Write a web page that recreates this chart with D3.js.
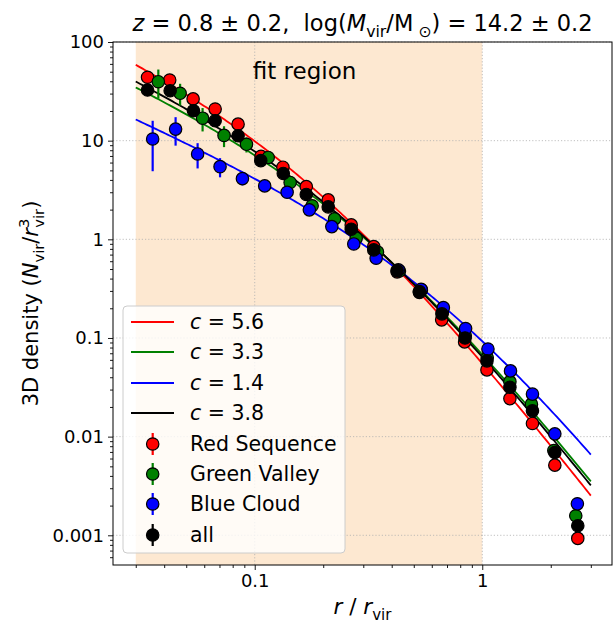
<!DOCTYPE html>
<html><head><meta charset="utf-8">
<script src="https://cdn.jsdelivr.net/npm/d3@7"></script>
<style>body{margin:0;background:#fff}svg{display:block;font-family:"DejaVu Sans",sans-serif}</style>
</head><body>
<svg id="chart" width="613" height="623"></svg>
<script>
// ---------- data ----------
const concentrations = [5.6, 3.3, 1.4, 3.8];
const modelColors = ["#ff0000", "#008000", "#0000ff", "#000000"];
const fitRange = [0.03, 1.0];
const modelRange = [0.03, 3.0];

const seriesNames = ["Red Sequence", "Green Valley", "Blue Cloud", "all"];
const seriesColors = ["#ff0000", "#008000", "#0000ff", "#000000"];

const redR = [0.0338,0.0423,0.0536,0.0670,0.0845,0.1066,0.1330,0.1685,0.2104,0.2655,0.3335,0.4225,0.5293,0.6632,0.8364,1.0486,1.3228,1.6618,2.084,2.629];
const redY = [43.9,41.2,26.5,20.9,14.7,6.95,5.38,3.42,2.51,1.40,0.843,0.468,0.290,0.1526,0.0913,0.0475,0.0243,0.0136,0.00514,0.00093];
const redE = [3.0,3.5,2.0,2.0,1.2,0.6,0.4,0.25,0.15,0.08,0.04,0.02,0.012,0.006,0.004,0.002,0.001,0.0006,0.0003,0.0001];

const greenR = [0.0377,0.0470,0.0590,0.0733,0.0920,0.1146,0.1431,0.1788,0.2243,0.2792,0.3463,0.4325,0.5401,0.6679,0.8422,1.0517,1.3228,1.6450,2.063,2.576];
const greenY = [39.6,30.2,16.9,11.3,9.19,6.76,3.77,2.19,1.61,1.026,0.745,0.478,0.307,0.181,0.105,0.0629,0.0361,0.02135,0.00723,0.001576];
const greenE = [13.0,7.5,4.5,2.7,1.6,0.8,0.4,0.2,0.12,0.07,0.04,0.025,0.015,0.008,0.005,0.003,0.0015,0.001,0.0004,0.0001];

const blueR = [0.0356,0.0449,0.0561,0.0704,0.0883,0.1106,0.1388,0.1738,0.2182,0.2725,0.3417,0.4280,0.5383,0.6745,0.8449,1.0592,1.3308,1.6618,2.084,2.618];
const blueY = [10.4,13.1,7.33,5.45,4.12,3.48,3.00,1.99,1.345,0.898,0.643,0.490,0.312,0.203,0.1248,0.0772,0.0464,0.0270,0.01067,0.002085];
const blueE = [5.5,4.2,2.1,1.2,0.6,0.3,0.2,0.12,0.07,0.04,0.025,0.015,0.01,0.006,0.004,0.002,0.0012,0.0007,0.0003,0.0001];

const allR = [0.0338,0.0425,0.0538,0.0670,0.0845,0.1063,0.1335,0.1685,0.2104,0.2655,0.3335,0.4225,0.5293,0.6650,0.8400,1.0486,1.3228,1.6618,2.084,2.629];
const allY = [32.6,32.1,20.1,15.9,11.2,6.27,4.65,2.85,2.13,1.266,0.781,0.482,0.295,0.1754,0.0998,0.0586,0.0317,0.01826,0.0069,0.00125];
const allE = [2.5,2.5,1.5,1.2,0.7,0.35,0.25,0.15,0.1,0.06,0.03,0.018,0.01,0.005,0.003,0.0015,0.0008,0.0005,0.0002,0.00005];

const xMajorTicks = [0.1, 1];
const xMajorLabels = ["0.1", "1"];
const yMajorTicks = [0.001, 0.01, 0.1, 1, 10, 100];
const yMajorLabels = ["0.001", "0.01", "0.1", "1", "10", "100"];

// ---------- layout ----------
const svg = d3.select("#chart");
const L = 113, R = 612, T = 42, B = 565;
const x = d3.scaleLog().domain([0.02383, 3.717]).range([L, R]);
const y = d3.scaleLog().domain([5.0e-4, 100]).range([B, T]);

// text helper (mathtext-like)
function richText(sel, parts, fs) {
  let off = 0;
  parts.forEach(p => {
    const ts = sel.append("tspan").text(p.t);
    let target = 0, size = fs;
    if (p.sub) { target = 0.28 * fs; size = fs * 0.7; }
    if (p.sup) { target = -0.42 * fs; size = fs * 0.7; }
    ts.attr("font-size", size);
    if (target !== off) { ts.attr("dy", target - off); off = target; }
    if (p.dx) ts.attr("dx", p.dx);
    if (p.it) ts.attr("font-style", "italic");
  });
}

// fit region shading
svg.append("rect").attr("x", x(fitRange[0])).attr("y", T)
  .attr("width", x(fitRange[1]) - x(fitRange[0])).attr("height", B - T)
  .attr("fill", "#fde8d1");

// minor ticks values
const xMinor = [], yMinor = [];
for (let e = -2; e <= 0; e++) for (let k = 2; k <= 9; k++) { const v = k * Math.pow(10, e); if (v > 0.02383 && v < 3.717) xMinor.push(v); }
for (let e = -4; e <= 1; e++) for (let k = 2; k <= 9; k++) { const v = k * Math.pow(10, e); if (v > 5e-4 && v < 100) yMinor.push(v); }

// grid
const grid = svg.append("g").attr("stroke", "#b0b0b0").attr("stroke-width", 0.8).attr("stroke-dasharray", "1.2,2");
xMajorTicks.forEach(v => grid.append("line").attr("x1", x(v)).attr("x2", x(v)).attr("y1", T).attr("y2", B));
yMajorTicks.forEach(v => grid.append("line").attr("y1", y(v)).attr("y2", y(v)).attr("x1", L).attr("x2", R));

// fit region label
svg.append("text").attr("x", x(0.1) - 2).attr("y", 79).attr("font-size", 23).attr("fill", "#000").text("fit region");

// NFW model curves (normalised to 1 inside r_vir)
svg.append("clipPath").attr("id", "clip").append("rect").attr("x", L).attr("y", T).attr("width", R - L).attr("height", B - T);
const rs = d3.range(0, 201).map(i => modelRange[0] * Math.pow(modelRange[1] / modelRange[0], i / 200));
function nfw(c) {
  const m = Math.log(1 + c) - c / (1 + c);
  return r => (c * c * c / (4 * Math.PI * m)) / (c * r * (1 + c * r) * (1 + c * r));
}
const line = d3.line().x(d => x(d[0])).y(d => y(d[1]));
const gModels = svg.append("g").attr("clip-path", "url(#clip)");
concentrations.forEach((c, i) => {
  const f = nfw(c);
  gModels.append("path").datum(rs.map(r => [r, f(r)])).attr("d", line)
    .attr("fill", "none").attr("stroke", modelColors[i]).attr("stroke-width", 1.8);
});

// data points with error bars
const series = [[redR, redY, redE], [greenR, greenY, greenE], [blueR, blueY, blueE], [allR, allY, allE]];
const gPts = svg.append("g").attr("clip-path", "url(#clip)");
series.forEach((s, i) => {
  const g = gPts.append("g");
  const pts = s[0].map((r, j) => ({ r, v: s[1][j], e: s[2][j] }));
  g.selectAll("line").data(pts).join("line")
    .attr("x1", d => x(d.r)).attr("x2", d => x(d.r))
    .attr("y1", d => y(d.v + d.e)).attr("y2", d => y(Math.max(d.v - d.e, 1e-6)))
    .attr("stroke", seriesColors[i]).attr("stroke-width", 2.2);
  g.selectAll("circle").data(pts).join("circle")
    .attr("cx", d => x(d.r)).attr("cy", d => y(d.v)).attr("r", 6.2)
    .attr("fill", seriesColors[i]).attr("stroke", "#000").attr("stroke-width", 1.2);
});

// axes
svg.append("g").attr("transform", `translate(0,${B})`)
  .call(d3.axisBottom(x).tickValues(xMajorTicks).tickFormat((d, i) => xMajorLabels[i]).tickSize(5).tickPadding(4));
svg.append("g").attr("transform", `translate(0,${B})`)
  .call(d3.axisBottom(x).tickValues(xMinor).tickFormat("").tickSize(3)).call(g => g.select(".domain").remove());
svg.append("g").attr("transform", `translate(${L},0)`)
  .call(d3.axisLeft(y).tickValues(yMajorTicks).tickFormat((d, i) => yMajorLabels[i]).tickSize(5).tickPadding(4));
svg.append("g").attr("transform", `translate(${L},0)`)
  .call(d3.axisLeft(y).tickValues(yMinor).tickFormat("").tickSize(3)).call(g => g.select(".domain").remove());
svg.selectAll(".tick text").attr("font-size", 18).attr("font-family", "DejaVu Sans").attr("fill", "#000");
svg.selectAll(".tick line").attr("stroke", "#000").attr("stroke-width", 0.9);
svg.selectAll(".domain").remove();

// frame
svg.append("rect").attr("x", L).attr("y", T).attr("width", R - L).attr("height", B - T)
  .attr("fill", "none").attr("stroke", "#000").attr("stroke-width", 1);

// title
const title = svg.append("text").attr("x", (L + R) / 2).attr("y", 31).attr("text-anchor", "middle").attr("font-size", 22.5);
richText(title, [
  { t: "z", it: true }, { t: " = 0.8 ± 0.2,  log(" }, { t: "M", it: true }, { t: "vir", sub: true },
  { t: "/M" }, { t: " ⊙", sub: true }, { t: ") = 14.2 ± 0.2" }
], 22.5);
title.style("white-space", "pre");

// x label
const xl = svg.append("text").attr("x", (L + R) / 2).attr("y", 614).attr("text-anchor", "middle").attr("font-size", 21.5);
richText(xl, [{ t: "r", it: true }, { t: " / " }, { t: "r", it: true }, { t: "vir", sub: true }], 21.5);

// y label
const yl = svg.append("text").attr("transform", `translate(38,${(T + B) / 2}) rotate(-90)`).attr("text-anchor", "middle").attr("font-size", 21);
richText(yl, [{ t: "3D density (" }, { t: "N", it: true }, { t: "vir", sub: true }, { t: "/" }, { t: "r", it: true },
  { t: "3", sup: true }, { t: "vir", sub: true, dx: -9 }, { t: ")" }], 21);

// legend
const lg = svg.append("g");
lg.append("rect").attr("x", 123).attr("y", 306).attr("width", 222).attr("height", 247).attr("rx", 4)
  .attr("fill", "#fff").attr("fill-opacity", 0.8).attr("stroke", "#cccccc").attr("stroke-width", 1);
const lineRowsY = [322, 352, 383, 413];
concentrations.forEach((c, i) => {
  lg.append("line").attr("x1", 131).attr("x2", 174).attr("y1", lineRowsY[i]).attr("y2", lineRowsY[i])
    .attr("stroke", modelColors[i]).attr("stroke-width", 1.8);
  const t = lg.append("text").attr("x", 190).attr("y", lineRowsY[i] + 7).attr("font-size", 20.5);
  richText(t, [{ t: "c", it: true }, { t: " = " + c.toFixed(1) }], 20.5);
});
const ptRowsY = [444, 474, 504, 535];
seriesNames.forEach((n, i) => {
  lg.append("line").attr("x1", 152.7).attr("x2", 152.7).attr("y1", ptRowsY[i] - 11).attr("y2", ptRowsY[i] + 11)
    .attr("stroke", seriesColors[i]).attr("stroke-width", 2.2);
  lg.append("circle").attr("cx", 152.7).attr("cy", ptRowsY[i]).attr("r", 6.2)
    .attr("fill", seriesColors[i]).attr("stroke", "#000").attr("stroke-width", 1.2);
  lg.append("text").attr("x", 190).attr("y", ptRowsY[i] + 7).attr("font-size", 20.5).text(n);
});
</script>
</body></html>
